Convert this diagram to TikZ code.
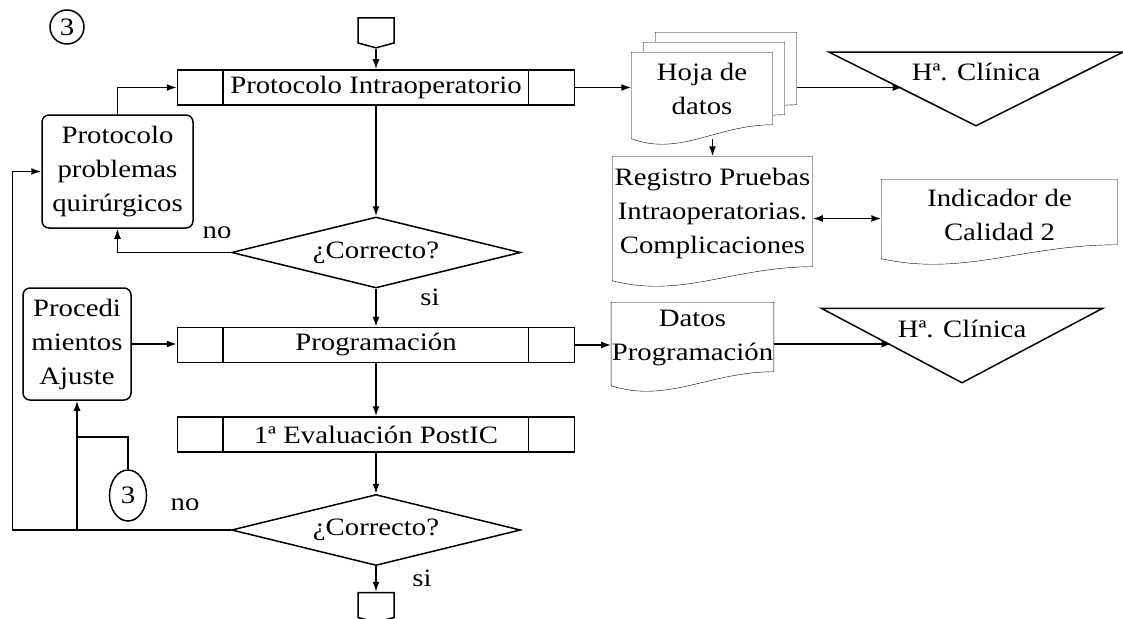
\documentclass[tikz,border=0pt]{standalone}
\usepackage{fontspec}
\setmainfont{Liberation Serif}[FakeStretch=1.15]
\usetikzlibrary{arrows.meta,positioning,calc,shapes.geometric,shapes.symbols,backgrounds}

\begin{document}
\begin{tikzpicture}[
      x=1pt, y=-1pt,
      line width=1.5pt,
      font=\fontsize{25}{34}\selectfont,
      arr/.style={-{Latex[length=10pt,width=7pt]}},
      arrboth/.style={{Latex[length=10pt,width=7pt]}-{Latex[length=10pt,width=7pt]}},
      % process boxes with the two side bars
      proc/.style={draw, minimum width=397pt, minimum height=35pt, inner sep=0pt},
      dec/.style={diamond, draw, aspect=4, minimum width=289pt, minimum height=71pt, inner sep=0pt},
      rbox/.style={draw, rounded corners=7pt, align=center, inner sep=0pt},
      doc/.style={align=center, inner sep=0pt},
      tri/.style={inner sep=0pt, text depth=34pt},
      conn/.style={draw, inner sep=0pt},
      offp/.style={signal, signal to=south, signal pointer angle=150, draw, minimum width=36pt, minimum height=25pt, inner sep=0pt},
      lbl/.style={inner sep=0pt}
    ]
      \useasboundingbox (0,0) rectangle (1123,618);

      % main column
      \node[offp] (offa) at (376,30.5) {};
      \node[proc] (pin) at (376,87.5) {Protocolo Intraoperatorio};
      \node[dec] (d1) at (376,252.5) {¿Correcto?};
      \node[proc] (prog) at (376,345) {Programación};
      \node[proc] (eval) at (376,434.5) {1ª Evaluación PostIC};
      \node[dec] (d2) at (376,530) {¿Correcto?};
      \node[offp] (offb) at (376,605) {};
      \foreach \n in {pin,prog,eval}
        \draw ([xshift=46pt]\n.north west) -- ([xshift=46pt]\n.south west)
              ([xshift=-47pt]\n.north east) -- ([xshift=-47pt]\n.south east);

      % left side
      \node[conn, circle, minimum size=34pt] (c3a) at (67,27) {3};
      \node[rbox, minimum width=151pt, minimum height=113pt] (prob) at (117.5,171.5) {Protocolo\\problemas\\quirúrgicos};
      \node[rbox, minimum width=108pt, minimum height=112pt] (proc) at (77,344) {Procedi\\mientos\\Ajuste};
      \node[conn, ellipse, minimum width=37pt, minimum height=51pt] (c3b) at (128,495.5) {3};
      \coordinate (j3) at (77,437);

      % right side
      \node[doc, minimum width=140pt, minimum height=85pt] (hojaC) at (726,75.5) {};
      \node[doc, minimum width=140pt, minimum height=85pt] (hojaB) at (714,85.5) {};
      \node[doc, minimum width=140pt, minimum height=85pt, text depth=13pt] (hoja) at (702,95.5) {Hoja de\\datos};
      \node[doc, minimum width=199pt, minimum height=123pt, text depth=15pt] (reg) at (712.5,218.5) {Registro Pruebas\\Intraoperatorias.\\Complicaciones};
      \node[doc, minimum width=235pt, minimum height=78pt, text depth=8pt] (ind) at (999.5,219) {Indicador de\\Calidad 2};
      \node[doc, minimum width=159pt, minimum height=82pt, text depth=18pt] (datos) at (692.5,344) {Datos\\Programación};
      \node[tri, minimum width=292pt, minimum height=72pt] (hc1) at (976,89) {Hª. Clínica};
      \node[tri, minimum width=280pt, minimum height=73pt] (hc2) at (962,345.5) {Hª. Clínica};
      \foreach \n in {hc1,hc2}
        \draw (\n.north west) -- (\n.north east) -- (\n.south) -- cycle;
      \coordinate (hc1in) at ($(hc1.north west)!.5!(hc1.south)$);
      \coordinate (hc2in) at ($(hc2.north west)!.5!(hc2.south)$);

      \begin{scope}[on background layer]
        \foreach \n in {hojaC,hojaB,hoja,reg,ind,datos}
          \draw[fill=white] (\n.north west) -- (\n.north east) -- ([yshift=14pt]\n.south east)
            .. controls ($(\n.south west)!0.6!(\n.south east)+(0pt,14pt)$) and ($(\n.south west)!0.35!(\n.south east)+(0pt,-18pt)$) .. (\n.south west) -- cycle;
      \end{scope}

      % labels
      \node[lbl] (no1) at (217,233) {no};
      \node[lbl] (si1) at (430,297) {si};
      \node[lbl] (no2) at (185,505) {no};
      \node[lbl] (si2) at (422,578) {si};

      % connectors
      \draw[arr] (offa.south) -- (pin.north);
      \draw[arr] (pin.east) -- (pin.east -| hoja.west);
      \draw[arr] (hojaC.east |- pin.east) -- (pin.east -| hc1in);
      \draw[arr] (reg.north |- hoja.south) -- (reg.north);
      \draw[arrboth] (reg.east) -- (reg.east -| ind.west);
      \draw[arr] (pin.south) -- (d1.north);
      \draw[arr] (d1.west) -| (prob.south);
      \draw[arr] (prob.north) |- (pin.west);
      \draw[arr] (d1.south) -- (prog.north);
      \draw[arr] (proc.east) -- (proc.east -| prog.west);
      \draw[arr] (prog.east) -- (prog.east -| datos.west);
      \draw[arr] (datos.east) -- (datos.east -| hc2in);
      \draw[arr] (prog.south) -- (eval.north);
      \draw[arr] (eval.south) -- (d2.north);
      \draw[arr] (d2.south) -- (offb.north);
      \draw[arr] (d2.west) -| ([xshift=-29pt]prob.west) -- (prob.west);
      \draw[arr] (proc.south |- d2.west) -- (proc.south);
      \draw (c3b.north) |- (j3);
    \end{tikzpicture}
\end{document}
